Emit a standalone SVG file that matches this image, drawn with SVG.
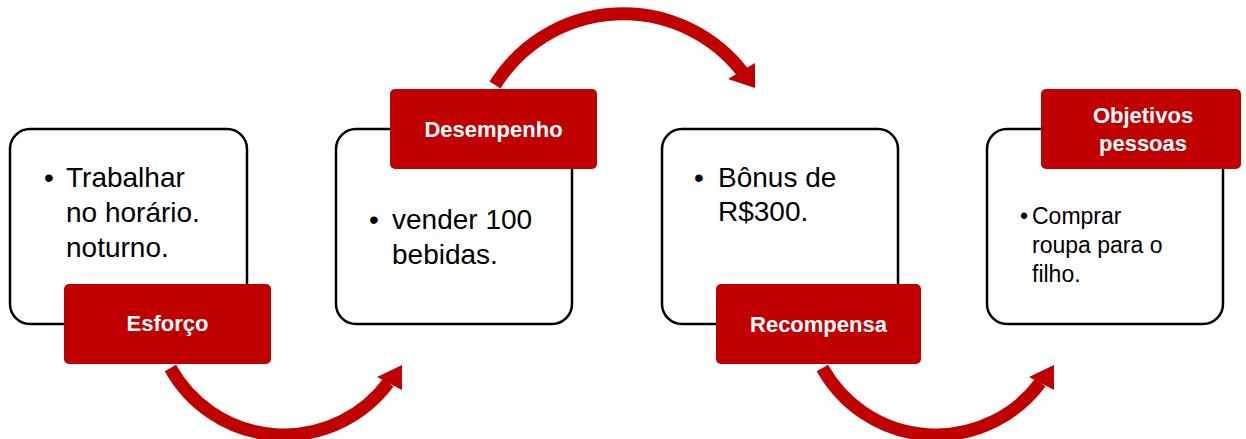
<svg xmlns="http://www.w3.org/2000/svg" width="1246" height="439" viewBox="0 0 1246 439">
  <style>
    .box { fill: #ffffff; stroke: #000000; stroke-width: 2.5; }
    .label { fill: #c00000; }
    .body { font-family: "Liberation Sans", Arial, sans-serif; font-size: 28px; fill: #000000; }
    .small { font-family: "Liberation Sans", Arial, sans-serif; font-size: 23px; fill: #000000; }
    .lbl { font-family: "Liberation Sans", Arial, sans-serif; font-size: 22px; font-weight: bold; fill: #ffffff; text-anchor: middle; }
    .arc { fill: none; stroke: #c00000; stroke-width: 13; }
    .head { fill: #c00000; }
  </style>
  <rect width="1246" height="439" fill="#ffffff"/>

  <g id="connectors">
    <path class="arc" d="M170.4,368 A130,130 0 0 0 388.3,382.6"/>
    <polygon class="head" points="402,365 377,377 402,390"/>
    <path class="arc" d="M495,85 A151,151 0 0 1 742.5,72.2"/>
    <polygon class="head" points="755,88 755,63 728,79"/>
    <path class="arc" d="M822.4,368 A130,130 0 0 0 1040.3,382.6"/>
    <polygon class="head" points="1054,365 1029,377 1054,390"/>
  </g>

  <g id="node-esforco">
    <rect class="box" x="10" y="129" width="237" height="195" rx="20"/>
    <text class="body" x="44" y="187">•</text>
    <text class="body" x="66" y="187">Trabalhar</text>
    <text class="body" x="66" y="222">no horário.</text>
    <text class="body" x="66" y="257">noturno.</text>
    <rect class="label" x="64" y="284" width="207" height="80" rx="5"/>
    <text class="lbl" x="167.5" y="331">Esforço</text>
  </g>

  <g id="node-desempenho">
    <rect class="box" x="336" y="129" width="236" height="195" rx="20"/>
    <text class="body" x="369" y="229">•</text>
    <text class="body" x="392" y="229">vender 100</text>
    <text class="body" x="392" y="264">bebidas.</text>
    <rect class="label" x="390" y="89" width="207" height="80" rx="5"/>
    <text class="lbl" x="493.5" y="137">Desempenho</text>
  </g>

  <g id="node-recompensa">
    <rect class="box" x="662" y="129" width="236" height="195" rx="20"/>
    <text class="body" x="694" y="187">•</text>
    <text class="body" x="718" y="187">Bônus de</text>
    <text class="body" x="718" y="221">R$300.</text>
    <rect class="label" x="716" y="284" width="205" height="80" rx="5"/>
    <text class="lbl" x="818.5" y="332">Recompensa</text>
  </g>

  <g id="node-objetivos">
    <rect class="box" x="987" y="129" width="236" height="195" rx="20"/>
    <text class="small" x="1020" y="224">•</text>
    <text class="small" x="1032" y="224">Comprar</text>
    <text class="small" x="1032" y="253">roupa para o</text>
    <text class="small" x="1032" y="282">filho.</text>
    <rect class="label" x="1041" y="89" width="200" height="80" rx="5"/>
    <text class="lbl" x="1143" y="123">Objetivos</text>
    <text class="lbl" x="1143" y="151">pessoas</text>
  </g>
</svg>
